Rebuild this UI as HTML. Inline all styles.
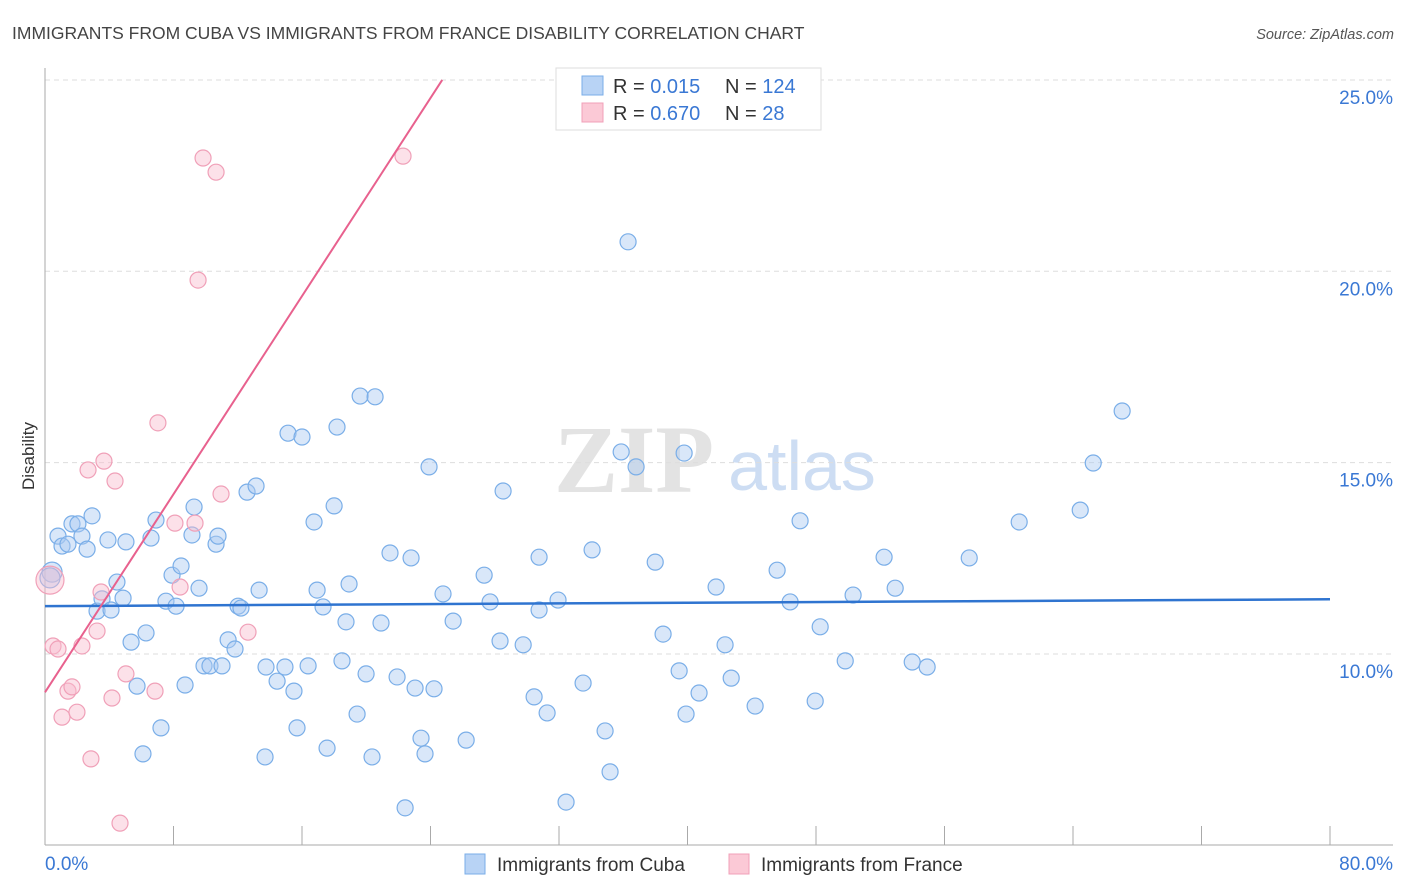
<!DOCTYPE html>
<html><head><meta charset="utf-8"><style>
body{margin:0;background:#fff;font-family:"Liberation Sans",sans-serif;}
svg{display:block}
</style></head><body>
<svg id="chart" width="1406" height="892" xmlns="http://www.w3.org/2000/svg">
<text x="12" y="39" font-size="17.5" fill="#444">IMMIGRANTS FROM CUBA VS IMMIGRANTS FROM FRANCE DISABILITY CORRELATION CHART</text>
<text x="1394" y="39" font-size="14.5" fill="#555" font-style="italic" text-anchor="end">Source: ZipAtlas.com</text>
<text x="34" y="456" font-size="17" fill="#333" text-anchor="middle" transform="rotate(-90 34 456)">Disability</text>
<g>
<text x="634" y="492" font-size="96" font-family="Liberation Serif,serif" font-weight="bold" fill="#d8d8d8" text-anchor="middle" opacity="0.7">ZIP</text>
<text x="802" y="490" font-size="70" fill="#b8d0ee" text-anchor="middle" opacity="0.7">atlas</text>
</g>
<g id="grid"></g><g id="axes"></g><g id="pts"></g><g id="lines"></g>
<g>
<rect x="556" y="68" width="265" height="62" fill="#fff" stroke="#ddd"/>
<rect x="582" y="76" width="21" height="19" fill="#b8d3f5" stroke="#7aaee8"/>
<rect x="582" y="103" width="21" height="19" fill="#fbc9d6" stroke="#f0a0b8"/>
<text x="613" y="93" font-size="20" fill="#333">R = <tspan fill="#3a78d4"> 0.015</tspan></text>
<text x="725" y="93" font-size="20" fill="#333">N = <tspan fill="#3a78d4">124</tspan></text>
<text x="613" y="120" font-size="20" fill="#333">R = <tspan fill="#3a78d4">0.670</tspan></text>
<text x="725" y="120" font-size="20" fill="#333">N = <tspan fill="#3a78d4">  28</tspan></text>
</g>
<g>
<rect x="465" y="854" width="20" height="20" fill="#b8d3f5" stroke="#7aaee8"/>
<text x="497" y="871" font-size="19" fill="#333">Immigrants from Cuba</text>
<rect x="729" y="854" width="20" height="20" fill="#fbc9d6" stroke="#f0a0b8"/>
<text x="761" y="871" font-size="19" fill="#333">Immigrants from France</text>
</g>
</svg>
<script>
const cubaX=[0.44,0.31,0.81,1.06,1.43,1.68,2.05,2.30,2.62,2.93,3.24,3.55,3.92,4.11,4.48,4.86,5.04,5.36,5.73,6.29,6.60,6.91,7.22,6.10,7.53,7.91,8.16,8.47,8.72,9.15,9.28,9.59,9.90,10.27,10.65,10.77,11.02,11.40,11.83,12.02,12.20,12.58,13.14,13.33,13.70,13.76,14.45,14.94,15.13,15.50,15.69,16.00,16.38,16.75,16.94,17.31,17.56,18.00,18.18,18.49,18.74,18.93,19.43,19.62,19.99,20.36,20.55,20.92,21.48,21.92,22.42,22.79,23.04,23.41,23.66,23.91,24.22,24.78,25.41,26.22,27.34,27.71,28.33,28.52,29.77,30.45,30.76,30.76,31.26,31.94,32.44,33.50,34.06,34.87,35.18,35.87,36.30,36.80,37.99,38.48,39.48,39.91,39.79,40.72,41.78,42.34,42.72,44.21,45.58,46.39,47.01,47.95,48.26,49.82,50.31,52.24,52.93,53.99,54.92,57.54,60.65,64.45,65.26,67.06];
const cubaY=[12.14,11.99,13.08,12.82,12.87,13.40,13.40,13.08,12.74,13.61,11.12,11.44,12.98,11.15,11.88,11.46,12.93,10.31,9.16,10.55,13.03,13.50,8.07,7.39,11.38,12.06,11.25,12.30,9.19,13.11,13.84,11.72,9.69,9.69,12.87,13.08,9.69,10.37,10.13,11.25,11.20,14.23,14.39,11.67,7.31,9.66,9.29,9.66,15.77,9.03,8.07,15.67,9.69,13.45,11.67,11.23,7.54,13.87,15.93,9.82,10.84,11.83,8.43,16.74,9.48,7.31,16.72,10.81,12.64,9.40,5.98,12.51,9.11,7.80,7.39,14.89,9.09,11.57,10.86,7.75,12.06,11.36,10.34,14.26,10.24,8.88,12.53,11.15,8.46,11.41,6.13,9.24,12.72,7.99,6.92,15.28,20.77,14.89,12.40,10.52,9.56,8.43,15.25,8.98,11.75,10.24,9.37,8.64,12.19,11.36,13.48,8.77,10.71,9.82,11.54,12.53,11.72,9.79,9.66,12.51,13.45,13.76,14.99,16.35];
const franceX=[0.31,0.50,0.81,1.06,1.43,1.68,1.99,2.30,2.68,2.86,3.24,3.49,3.67,4.17,4.36,4.67,5.04,6.85,7.03,8.09,8.41,9.34,9.53,9.84,10.65,10.96,12.64,22.29];
const franceY=[11.93,10.21,10.13,8.35,9.03,9.14,8.48,10.21,14.81,7.26,10.60,11.62,15.04,8.85,14.52,5.58,9.48,9.03,16.04,13.42,11.75,13.42,19.77,22.96,22.59,14.18,10.57,23.01];
const yTicks=[10,15,20,25];
const yTickLabels=["10.0%","15.0%","20.0%","25.0%"];
const xTicks=[0,8,16,24,32,40,48,56,64,72,80];
const xEnds=[0,80];const xEndLabels=["0.0%","80.0%"];
const cubaTrend=[11.25,11.43];
const franceTrend=[9.0,0.647];

const NS="http://www.w3.org/2000/svg";
const xs=v=>45+v*16.0625;
const ys=v=>654-(v-10)*38.27;
function mk(tag,attrs,parent){const e=document.createElementNS(NS,tag);for(const k in attrs)e.setAttribute(k,attrs[k]);parent.appendChild(e);return e;}
const grid=document.getElementById('grid'),axes=document.getElementById('axes'),pts=document.getElementById('pts'),lines=document.getElementById('lines');
yTicks.forEach((t,i)=>{
 const l=mk('line',{x1:45,x2:1393,y1:ys(t),y2:ys(t),stroke:'#ddd','stroke-dasharray':'5,4'},grid);
 
 
 const tx=mk('text',{x:1393,y:ys(t)+24,'font-size':19,fill:'#3a78d4','text-anchor':'end'},grid);
 tx.textContent=yTickLabels[i];
 
 
});
let a=mk('line',{x1:45,x2:45,y1:68,y2:845,stroke:'#aaa'},axes);


a=mk('line',{x1:45,x2:1393,y1:845,y2:845,stroke:'#aaa'},axes);


xTicks.forEach(t=>{
 const l=mk('line',{x1:xs(t),x2:xs(t),y1:826,y2:845,stroke:'#aaa'},axes);
 
 
});
xEnds.forEach((t,i)=>{
 const tx=mk('text',{x:i==0?xs(t):1393,y:870,'font-size':19,fill:'#3a78d4','text-anchor':i==0?'start':'end'},axes);
 tx.textContent=xEndLabels[i];
 
 
});
cubaX.forEach((x,i)=>{
 const c=mk('circle',{cx:xs(x),cy:ys(cubaY[i]),r:i<2?10:8,fill:'rgba(170,202,242,0.45)',stroke:'#7aaee8','stroke-width':1.2},pts);
 
 
});
franceX.forEach((x,i)=>{
 const c=mk('circle',{cx:xs(x),cy:ys(franceY[i]),r:i==0?14:8,fill:'rgba(248,188,206,0.45)',stroke:'#f0a0b8','stroke-width':1.2},pts);
 
 
});
let tl=mk('line',{x1:xs(0),y1:ys(cubaTrend[0]),x2:xs(80),y2:ys(cubaTrend[1]),stroke:'#2f74d0','stroke-width':2.5},lines);


const xEndF=(25-franceTrend[0])/franceTrend[1];
tl=mk('line',{x1:xs(0),y1:ys(franceTrend[0]),x2:xs(xEndF),y2:ys(25),stroke:'#e8618e','stroke-width':2},lines);


</script>
</body></html>
